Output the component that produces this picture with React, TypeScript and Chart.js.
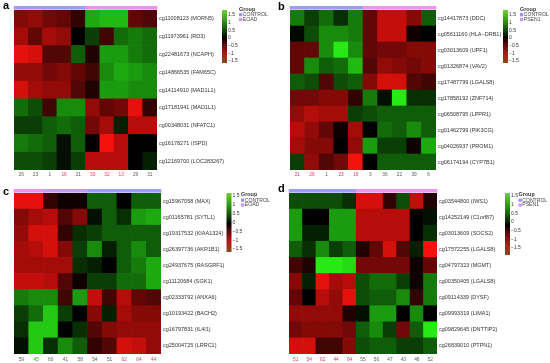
import React, { useEffect, useRef } from "react";
import { Chart, registerables } from "chart.js";
Chart.register(...registerables);

const FONT = "'Liberation Sans', Arial, Helvetica, sans-serif";

// ---------- Panel a ----------
const samplesA = ["26", "23", "1", "16", "21", "30", "32", "13", "29", "31"];
const probesA = [
  "cg11008123 (MORN5)", "cg11973961 (RD3)", "cg22481673 (NCAPH)", "cg14866535 (FAM65C)",
  "cg14114910 (MAD1L1)", "cg17181941 (MAD1L1)", "cg00348031 (NFATC1)", "cg16178271 (ISPD)",
  "cg12169700 (LOC283267)",
];
const valuesA = [
  [-0.8, -0.9, -0.7, -0.6, -0.3, 1.1, 1.2, 1.2, -0.6, -0.5],
  [-1.0, -0.6, -1.0, -0.9, 0.0, 0.4, -0.4, 0.7, 0.8, 0.7],
  [-1.4, -1.3, -0.5, -0.5, 0.6, -0.2, 1.0, 1.0, 0.8, 0.7],
  [-0.9, -0.9, -0.7, -0.8, -0.6, -0.4, 0.9, 1.1, 1.0, 0.9],
  [-1.3, -1.0, -0.9, -0.9, -0.5, -0.2, 1.0, 1.0, 0.9, 0.9],
  [0.7, 0.5, -0.4, 0.9, 0.9, -0.9, -0.6, -0.7, -1.4, -0.3],
  [0.4, 0.4, 0.6, 0.7, 0.6, -0.7, -1.0, 0.2, -1.1, -1.1],
  [0.8, 0.7, 0.6, 0.1, 0.6, 0.0, -1.5, -1.1, 0.0, 0.0],
  [0.5, 0.5, 0.4, 0.1, 0.4, -1.1, -1.1, -1.1, 0.0, 0.2],
];
const groupsA = ["CONTROL", "CONTROL", "CONTROL", "CONTROL", "CONTROL", "EOAD", "EOAD", "EOAD", "EOAD", "EOAD"];
const legendA = ["CONTROL", "EOAD"];

// ---------- Panel b ----------
const samplesB = ["21", "26", "1", "23", "16", "3", "36", "22", "39", "6"];
const probesB = [
  "cg14417873 (DDC)", "cg05611160 (HLA−DRB1)", "cg03013609 (UPF1)", "cg01326874 (VAV2)",
  "cg17487799 (LGALS8)", "cg17858192 (ZNF714)", "cg06508795 (LPPR1)", "cg01462799 (PIK3CG)",
  "cg04026937 (PROM1)", "cg06174194 (CYP7B1)",
];
const valuesB = [
  [0.8, 0.4, 0.7, 0.3, 0.8, -0.6, -1.2, -1.2, -0.8, 0.6],
  [0.05, 0.5, 0.9, 0.9, 0.8, -0.6, -1.2, -1.2, -0.1, 0.0],
  [-0.6, -0.6, 0.9, 1.5, 0.9, -0.6, -0.7, -0.7, -0.8, -0.8],
  [-0.6, 0.9, 0.6, 0.7, 1.2, -0.5, -0.9, -0.8, -0.7, -0.8],
  [0.6, 0.5, -0.5, 0.5, 0.6, -0.8, -1.3, -1.3, -0.5, -0.4],
  [-0.7, -0.7, -0.8, -0.8, -0.3, 0.8, 0.1, 1.5, 0.3, 0.3],
  [-0.9, -1.1, -1.0, -1.0, 0.4, 0.5, 0.6, 0.6, 0.6, 0.6],
  [-1.1, -0.9, -0.6, -0.1, -1.0, 0.0, 0.7, 0.6, 0.9, 0.6],
  [-1.0, -0.8, -0.8, 0.0, -0.9, 1.0, 0.4, 0.4, -0.1, 1.1],
  [0.4, -0.9, -0.5, -0.7, -1.5, 0.0, 0.6, 0.6, 0.6, 0.6],
];
const groupsB = ["CONTROL", "CONTROL", "CONTROL", "CONTROL", "CONTROL", "PSEN1", "PSEN1", "PSEN1", "PSEN1", "PSEN1"];
const legendB = ["CONTROL", "PSEN1"];

// ---------- Panel c ----------
const samplesC = ["59", "45", "60", "41", "58", "54", "51", "62", "64", "44"];
const probesC = [
  "cg15967058 (MAX)", "cg01165781 (SYTL1)", "cg19317532 (KIAA1324)", "cg26397736 (AKR1B1)",
  "cg24937675 (RASGRF1)", "cg11120684 (SGK1)", "cg02333792 (ANXA6)", "cg10193422 (BACH2)",
  "cg16797831 (IL4I1)", "cg25004725 (LRRC1)",
];
const valuesC = [
  [-1.4, -1.4, -0.3, -0.1, -0.1, 0.6, 0.6, 0.0, 0.6, 0.6],
  [-0.8, -1.0, -1.1, -0.5, -0.8, 0.1, 0.6, 0.3, 1.0, 1.1],
  [-0.9, -1.3, -1.3, -0.3, 0.3, 0.4, 0.6, 0.6, 0.6, 0.6],
  [-1.0, -1.1, -1.3, -0.8, 0.4, 0.9, 0.2, 0.6, 0.9, 0.6],
  [-1.0, -1.0, -1.0, -1.0, 0.3, 0.2, 0.0, 0.6, 0.8, 1.1],
  [-1.2, -1.2, -1.1, -0.5, -0.1, 0.4, 0.4, 0.7, 0.7, 1.1],
  [0.8, 0.9, 0.9, -0.4, 1.0, -1.2, -0.4, -1.1, -0.6, -0.5],
  [0.4, 0.7, 1.3, 0.4, 0.0, -0.8, 0.2, -1.0, -0.8, -0.8],
  [0.3, 1.3, 1.3, 0.0, 0.3, -0.5, -0.8, -0.9, -0.9, -0.9],
  [0.1, 1.3, 0.3, 0.9, 0.6, -0.3, -0.5, -1.3, -1.2, -0.9],
];
const groupsC = ["EOAD", "EOAD", "MIXED", "MIXED", "MIXED", "CONTROL", "CONTROL", "CONTROL", "CONTROL", "CONTROL"];
const legendC = ["CONTROL", "EOAD"];

// ---------- Panel d ----------
const samplesD = ["51", "54", "62", "44", "64", "55", "56", "47", "43", "46", "52"];
const probesD = [
  "cg03544800 (IWS1)", "cg14252149 (C1orf87)", "cg03013609 (SOCS2)", "cg17572255 (LGALS8)",
  "cg04797323 (MGMT)", "cg00350405 (LGALS8)", "cg09114339 (DYSF)", "cg09993319 (LIMA1)",
  "cg09829645 (DNTTIP2)", "cg26839010 (PTPN1)",
];
const valuesD = [
  [0.5, 0.5, 0.5, 0.5, 0.3, -1.3, -1.3, -0.3, 0.5, -1.2, -0.2],
  [1.0, 0.0, 0.0, 1.0, 1.0, -1.1, -1.1, -1.1, -1.1, 0.0, 0.1],
  [1.0, 0.2, 0.2, 1.0, 1.0, -1.1, -1.1, -1.1, -1.1, 0.0, 0.3],
  [0.6, 0.3, 0.9, 0.4, 0.6, -0.2, -0.6, -1.3, -0.5, 0.2, -1.5],
  [-0.4, -0.2, 1.5, 1.5, 1.4, -0.7, -0.7, -0.7, -0.7, -0.1, -0.6],
  [-0.8, 0.2, -1.4, -1.0, -1.1, 0.5, 0.7, 0.7, 0.4, -0.1, 0.8],
  [-0.6, 0.0, -1.1, -0.9, -1.4, 0.5, 0.6, 0.6, 0.9, -0.3, 0.8],
  [-0.9, -0.9, -0.9, -0.9, -0.2, 0.1, 1.0, 1.0, 0.0, 0.9, 0.0],
  [-0.7, -0.8, -0.8, -0.8, -0.7, 0.6, 0.9, 0.4, -0.7, 0.6, 1.5],
  [-1.3, -1.3, -0.4, -0.4, -0.8, 0.5, 0.6, 0.6, 0.4, 0.4, 0.6],
];
const groupsD = ["CONTROL", "CONTROL", "CONTROL", "CONTROL", "CONTROL", "PSEN1", "PSEN1", "PSEN1", "PSEN1", "PSEN1", "PSEN1"];
const legendD = ["CONTROL", "PSEN1"];

// ---------- colour bar ----------
const colorbarTicks = [1.5, 1, 0.5, 0, -0.5, -1, -1.5];
const colorbarTickLabels = ["1.5", "1", "0.5", "0", "−0.5", "−1", "−1.5"];

// ---------- styles ----------
const GROUP_COLORS: Record<string, string> = {
  CONTROL: "#9d9df2",
  EOAD: "#ee90ee",
  PSEN1: "#ee95ee",
  MIXED: "#c39af0",
};
const LEGEND_COLORS = ["#9393f0", "#c898f0"];
const GREY = "#5a5a5a";
const RED = "#d23a6e";
const GREEN = "#3c9a3c";
const labelColorsA = [GREY, GREY, GREY, RED, GREY, RED, RED, RED, GREY, GREY];
const labelColorsB = [RED, RED, GREY, RED, RED, GREY, GREY, GREY, GREY, GREY];
const labelColorsC = [GREY, GREEN, GREY, GREY, GREY, GREY, GREY, RED, RED, RED];
const labelColorsD = [RED, RED, RED, RED, RED, GREY, GREY, GREY, GREY, GREY, GREY];

function heatColor(v: number) {
  const t = Math.min(1, Math.abs(v) / 1.5);
  if (v >= 0) return `rgb(${Math.round(40 * t)},${Math.round(232 * t)},${Math.round(22 * t)})`;
  return `rgb(${Math.round(245 * t)},${Math.round(18 * t)},${Math.round(14 * t)})`;
}

type Panel = {
  letter: string;
  samples: string[];
  probes: string[];
  values: number[][];
  groups: string[];
  legend: string[];
  labelColors: string[];
  left: number; top: number; w: number; h: number;
  padL: number; padT: number; yW: number; xH: number; xPad: number;
  letterX: number; letterY: number;
  cbX: number; cbTop: number; cbBot: number; cbY15: number; cbYm15: number;
  lgX: number; lgY: number;
};

const panels: Panel[] = [
  {
    letter: "a", samples: samplesA, probes: probesA, values: valuesA, groups: groupsA, legend: legendA, labelColors: labelColorsA,
    left: 0, top: 0, w: 275, h: 180, padL: 14, padT: 10, yW: 118, xH: 10, xPad: 1.5,
    letterX: 3, letterY: 9, cbX: 222, cbTop: 10, cbBot: 63, cbY15: 15, cbYm15: 61, lgX: 239, lgY: 9.5,
  },
  {
    letter: "b", samples: samplesB, probes: probesB, values: valuesB, groups: groupsB, legend: legendB, labelColors: labelColorsB,
    left: 275, top: 0, w: 275, h: 180, padL: 15, padT: 10, yW: 114, xH: 10, xPad: 1.5,
    letterX: 3, letterY: 10, cbX: 228, cbTop: 10, cbBot: 63, cbY15: 15, cbYm15: 61, lgX: 245, lgY: 9.5,
  },
  {
    letter: "c", samples: samplesC, probes: probesC, values: valuesC, groups: groupsC, legend: legendC, labelColors: labelColorsC,
    left: 0, top: 180, w: 275, h: 183, padL: 14, padT: 13, yW: 114, xH: 9, xPad: 2.5,
    letterX: 3, letterY: 15, cbX: 226.5, cbTop: 13, cbBot: 72, cbY15: 16, cbYm15: 69, lgX: 241, lgY: 15,
  },
  {
    letter: "d", samples: samplesD, probes: probesD, values: valuesD, groups: groupsD, legend: legendD, labelColors: labelColorsD,
    left: 275, top: 180, w: 275, h: 183, padL: 14, padT: 13, yW: 113, xH: 9, xPad: 2.5,
    letterX: 3, letterY: 12, cbX: 230, cbTop: 13, cbBot: 75, cbY15: 16, cbYm15: 68, lgX: 243.5, lgY: 15,
  },
];

function decor(p: Panel) {
  return {
    id: "decor" + p.letter,
    afterDraw(chart: any) {
      const ctx = chart.ctx as CanvasRenderingContext2D;
      const ca = chart.chartArea;
      const xs = chart.scales.x;
      const n = p.samples.length;
      const cw = (ca.right - ca.left) / n;
      ctx.save();
      // group annotation bar
      p.groups.forEach((g, i) => {
        const cx = xs.getPixelForValue(i);
        ctx.fillStyle = GROUP_COLORS[g];
        ctx.fillRect(cx - cw / 2 - 0.3, ca.top - 4, cw + 0.6, 3.6);
      });
      // colour bar
      const grad = ctx.createLinearGradient(0, p.cbTop, 0, p.cbBot);
      grad.addColorStop(0, "#6fd030");
      grad.addColorStop(0.2, "#2f9a18");
      grad.addColorStop(0.45, "#082a05");
      grad.addColorStop(0.52, "#000000");
      grad.addColorStop(0.62, "#4a0808");
      grad.addColorStop(0.82, "#b01818");
      grad.addColorStop(1, "#8a4a18");
      ctx.fillStyle = grad;
      ctx.fillRect(p.cbX, p.cbTop, 5, p.cbBot - p.cbTop);
      ctx.font = `5px ${FONT}`;
      ctx.fillStyle = "#333";
      ctx.textAlign = "left";
      ctx.textBaseline = "middle";
      colorbarTicks.forEach((v, i) => {
        const y = p.cbY15 + ((1.5 - v) / 3) * (p.cbYm15 - p.cbY15);
        ctx.fillText(colorbarTickLabels[i], p.cbX + 6, y);
      });
      // legend
      ctx.fillStyle = "#333";
      ctx.font = `bold 5.4px ${FONT}`;
      ctx.fillText("Group", p.lgX, p.lgY);
      ctx.font = `5.1px ${FONT}`;
      p.legend.forEach((name, i) => {
        const y = p.lgY + 5.2 + i * 4.8;
        ctx.fillStyle = LEGEND_COLORS[i];
        ctx.fillRect(p.lgX, y - 1.6, 3.2, 3.2);
        ctx.fillStyle = "#444";
        ctx.fillText(name, p.lgX + 3.8, y);
      });
      // panel letter
      ctx.fillStyle = "#000";
      ctx.font = `bold 11px ${FONT}`;
      ctx.textBaseline = "alphabetic";
      ctx.fillText(p.letter, p.letterX, p.letterY);
      ctx.restore();
    },
  };
}

function buildChart(canvas: HTMLCanvasElement, p: Panel) {
  const rows = p.probes.length;
  const datasets: any[] = [];
  for (let k = 0; k < rows; k++) {
    const r = rows - 1 - k; // bottom row first
    datasets.push({
      label: p.probes[r],
      data: p.samples.map(() => 1),
      backgroundColor: p.values[r].map(heatColor),
      borderWidth: 0,
      borderSkipped: false,
      barPercentage: 1,
      categoryPercentage: 1,
    });
  }
  return new Chart(canvas, {
    type: "bar",
    data: { labels: p.samples, datasets },
    options: {
      responsive: false,
      animation: false,
      events: [],
      layout: { padding: { left: p.padL, top: p.padT, right: 0, bottom: 0 } },
      plugins: { legend: { display: false }, tooltip: { enabled: false }, title: { display: false } },
      scales: {
        x: {
          stacked: true,
          grid: { display: false, drawTicks: false },
          border: { display: false },
          ticks: {
            autoSkip: false,
            maxRotation: 0,
            padding: p.xPad,
            font: { size: 4.8, family: FONT },
            color: (c: any) => p.labelColors[c.index] || GREY,
          },
          afterFit: (s: any) => { s.height = p.xH; },
        },
        y: {
          stacked: true,
          position: "right",
          min: 0,
          max: rows,
          grid: { display: false, drawTicks: false },
          border: { display: false },
          afterBuildTicks: (s: any) => { s.ticks = p.probes.map((_, k) => ({ value: k + 0.5 })); },
          ticks: {
            autoSkip: false,
            padding: 2,
            font: { size: 5.5, family: FONT },
            color: "#333",
            callback: (v: any) => p.probes[rows - 1 - Math.floor(Number(v))],
          },
          afterFit: (s: any) => { s.width = p.yW; },
        },
      },
    } as any,
    plugins: [decor(p)],
  });
}

function HeatPanel({ p }: { p: Panel }) {
  const ref = useRef<HTMLCanvasElement>(null);
  useEffect(() => {
    const chart = buildChart(ref.current!, p);
    return () => chart.destroy();
  }, [p]);
  return (
    <canvas
      ref={ref}
      width={p.w}
      height={p.h}
      style={{ position: "absolute", left: p.left, top: p.top, width: p.w, height: p.h }}
    />
  );
}

export default function App() {
  return (
    <div style={{ position: "fixed", left: 0, top: 0, width: 550, height: 363, background: "#fff", overflow: "hidden" }}>
      {panels.map((p) => (
        <HeatPanel key={p.letter} p={p} />
      ))}
    </div>
  );
}
